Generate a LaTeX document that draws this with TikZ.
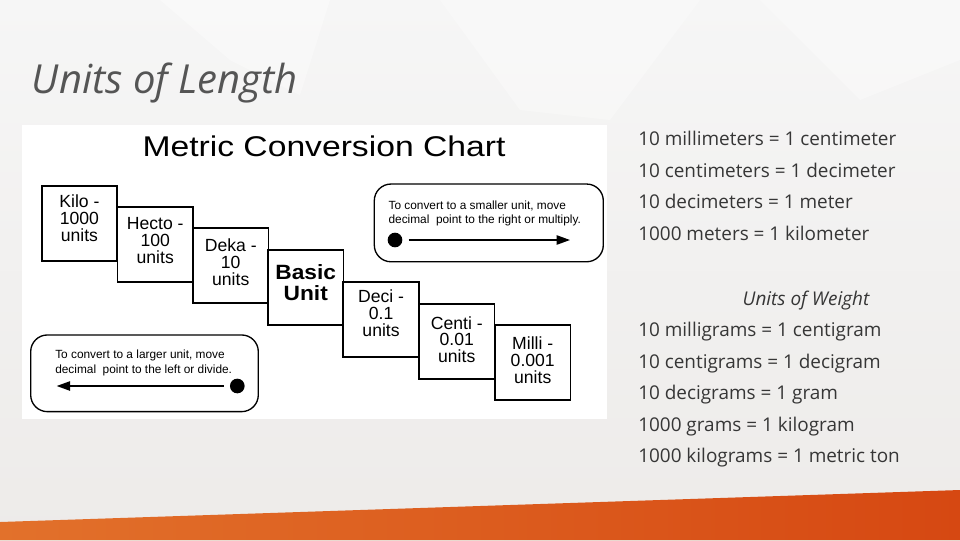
\documentclass[tikz,border=0pt]{standalone}
\usepackage{fontspec}
\setmainfont{Liberation Sans}
\newfontfamily\chartfont{Liberation Sans}
\newfontfamily\chartwidefont[FakeStretch=1.1]{Liberation Sans}
\newfontfamily\charttitlefont[FakeStretch=1.18]{Liberation Sans}
\newfontfamily\slidefont{Open Sans}
\usetikzlibrary{arrows.meta}
\definecolor{slidetext}{HTML}{363636}
\definecolor{titletext}{HTML}{555555}
\definecolor{bgtop}{HTML}{F6F6F6}
\definecolor{bgbot}{HTML}{EDEBE9}
\definecolor{orangeL}{HTML}{E2712B}
\definecolor{orangeR}{HTML}{D64812}
\begin{document}
\begin{tikzpicture}[x=0.75pt,y=-0.75pt,
  unitbox/.style={draw=black, fill=white, line width=1.3pt, minimum width=56.6pt, minimum height=56.25pt, inner sep=0pt, outer sep=0pt},
  unittext/.style={anchor=north, inner sep=0pt, align=center, font=\chartfont\fontsize{13.2}{12.7}\selectfont},
  notebox/.style={draw=black, line width=1pt, rounded corners=12.5pt, inner sep=0pt, outer sep=0pt},
  notetext/.style={anchor=north west, inner sep=0pt, align=left, font=\chartfont\fontsize{8.9}{10.9}\selectfont},
  blackdot/.style={circle, fill=black, minimum size=11pt, inner sep=0pt},
  convarrow/.style={line width=1pt, -{Triangle[length=10pt,width=7pt]}, shorten <=4.5pt},
  slideline/.style={anchor=base west, inner sep=0pt, text=slidetext, font=\slidefont\fontsize{14.2}{17}\selectfont}
]
\useasboundingbox (0,0) rectangle (960,540);
% background
\shade[top color=bgtop, bottom color=bgbot] (0,0) rectangle (960,540);
\fill[white, opacity=0.35] (160,0) -- (330,0) -- (300,95) -- (230,60) -- cycle;
\fill[white, opacity=0.3] (440,0) -- (700,0) -- (610,120) -- (520,110) -- cycle;
\fill[white, opacity=0.3] (760,0) -- (960,0) -- (960,60) -- (860,100) -- cycle;
\shade[left color=orangeL, right color=orangeR] (0,522) -- (960,490) -- (960,540) -- (0,540) -- cycle;

% title
\node[anchor=base west, inner sep=0pt, text=titletext, font=\slidefont\itshape\fontsize{30}{36}\selectfont] (title) at (31.7,93.3) {Units of Length};

% chart panel
\fill[white] (22,125) rectangle (607,419);
\node[anchor=base, inner sep=0pt, font=\charttitlefont\fontsize{21.4}{24}\selectfont] (charttitle) at (324,156.7) {Metric Conversion Chart};

% unit boxes
\node[unitbox] (kilo)  at (79.45,223.2) {};
\node[unitbox] (hecto) at (155.25,244.8) {};
\node[unitbox] (deka)  at (230.75,265.8) {};
\node[unitbox] (basic) at (305.75,287.5) {};
\node[unitbox] (deci)  at (381.05,319.5) {};
\node[unitbox] (centi) at (456.75,341.8) {};
\node[unitbox] (milli) at (532.75,362.8) {};

\node[unittext] (kilot)  at ([yshift=-6.8pt]kilo.north)  {Kilo -\\1000\\units};
\node[unittext] (hectot) at ([yshift=-7.6pt]hecto.north) {Hecto -\\100\\units};
\node[unittext] (dekat)  at ([yshift=-7.4pt]deka.north)  {Deka -\\10\\units};
\node[unittext, font=\chartwidefont\bfseries\fontsize{15.5}{15.6}\selectfont] (basict) at ([yshift=-10.8pt]basic.north) {Basic\\Unit};
\node[unittext] (decit)  at ([yshift=-5.8pt]deci.north)  {Deci -\\0.1\\units};
\node[unittext] (centit) at ([yshift=-8.8pt]centi.north) {Centi -\\0.01\\units};
\node[unittext] (millit) at ([yshift=-8.6pt]milli.north) {Milli -\\0.001\\units};

% note boxes
\node[notebox, minimum width=171.75pt, minimum height=58.3pt] (smallnote) at (488.8,222.9) {};
\node[notetext] (smalltext) at (388.3,200.3) {To convert to a smaller unit, move\\decimal~ point to the right or multiply.};
\node[blackdot] (rdot) at (395,240) {};
\coordinate (rtip) at (570,240);
\draw[convarrow] (rdot) -- (rtip);

\node[notebox, minimum width=170.7pt, minimum height=57.5pt] (largenote) at (144.5,373.3) {};
\node[notetext] (largetext) at (55,349.6) {To convert to a larger unit, move\\decimal~ point to the left or divide.};
\node[blackdot] (ldot) at (237.3,386) {};
\coordinate (ltip) at (56.7,386);
\draw[convarrow] (ldot) -- (ltip);

% right column
\node[slideline] (len1) at (638,145.7) {10 millimeters = 1 centimeter};
\node[slideline] (len2) at (638,177.3) {10 centimeters = 1 decimeter};
\node[slideline] (len3) at (638,208.9) {10 decimeters = 1 meter};
\node[slideline] (len4) at (638,240.5) {1000 meters = 1 kilometer};
\node[slideline, anchor=base, font=\slidefont\itshape\fontsize{14.2}{17}\selectfont] (wtitle) at (806,305) {Units of Weight};
\node[slideline] (wt1) at (638,336.7) {10 milligrams = 1 centigram};
\node[slideline] (wt2) at (638,368.3) {10 centigrams = 1 decigram};
\node[slideline] (wt3) at (638,399.6) {10 decigrams = 1 gram};
\node[slideline] (wt4) at (638,431) {1000 grams = 1 kilogram};
\node[slideline] (wt5) at (638,462.7) {1000 kilograms = 1 metric ton};
\end{tikzpicture}
\end{document}
